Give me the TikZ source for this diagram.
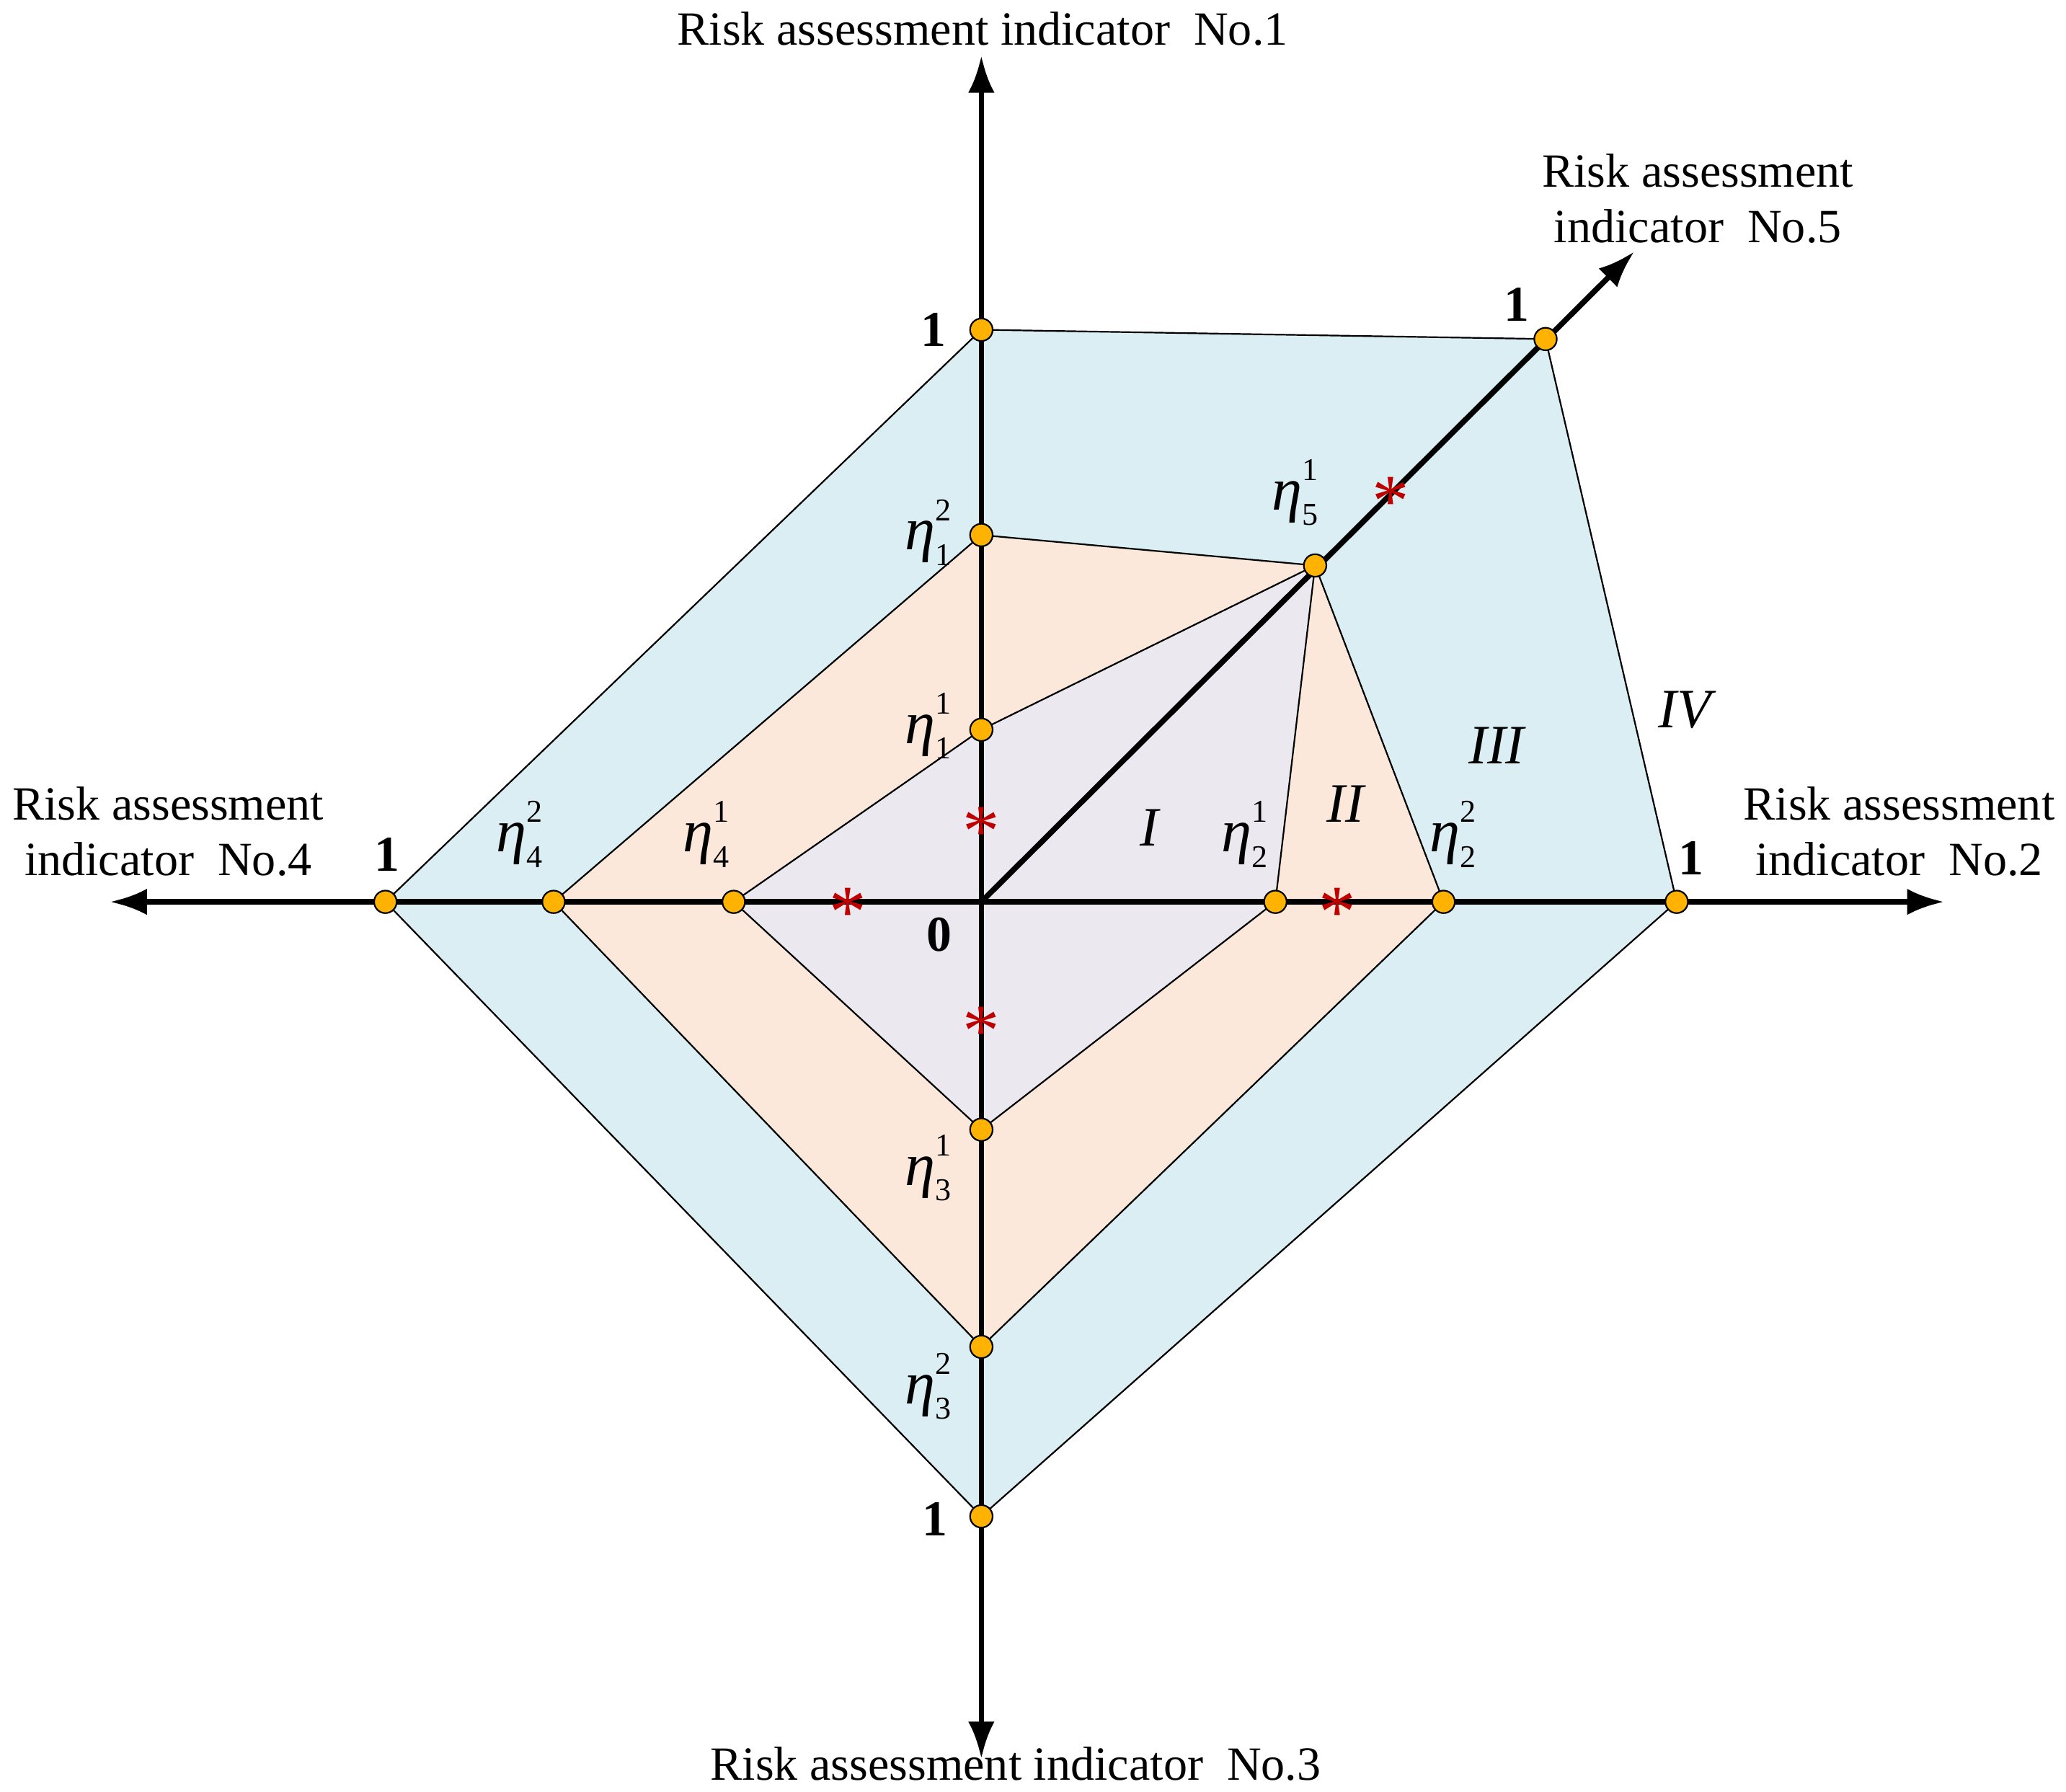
\documentclass[tikz,border=0pt]{standalone}
\usepackage{fontspec}
\setmainfont{Liberation Serif}
\usetikzlibrary{arrows.meta}
\newcommand{\myeta}[2]{\textit{η}\makebox[0pt][l]{\raisebox{1.05ex}{\fontsize{12}{12}\selectfont #2}}\raisebox{-0.55ex}{\fontsize{12}{12}\selectfont #1}}
\begin{document}
\begin{tikzpicture}[x=0.5pt,y=-0.5pt,
  ax/.style={line width=2.1pt,-{Latex[length=14pt,width=10pt]}},
  poly/.style={draw=black,line width=0.6pt},
  dot/.style={circle,draw=black,fill=orange!60!yellow!100,line width=0.6pt,minimum size=8.5pt,inner sep=0pt},
  st/.style={text=red!75!black,font=\fontsize{28}{28}\selectfont,inner sep=0pt},
  lab/.style={font=\fontsize{18}{21}\selectfont,align=center},
  one/.style={font=\fontsize{19}{19}\selectfont\bfseries},
  eta/.style={font=\fontsize{23}{23}\selectfont,inner sep=0pt},
  rn/.style={font=\fontsize{21}{21}\selectfont\itshape}]
\useasboundingbox (0,0) rectangle (1560,1353);
\definecolor{cb}{HTML}{DAEEF3}
\definecolor{co}{HTML}{FBE8DA}
\definecolor{ci}{HTML}{ECE8F0}
\coordinate (O) at (741,681);
\coordinate (a1) at (741,249); \coordinate (b1) at (741,404); \coordinate (c1) at (741,551);
\coordinate (a2) at (1266,681); \coordinate (b2) at (1090,681); \coordinate (c2) at (963,681);
\coordinate (a3) at (741,1145); \coordinate (b3) at (741,1017); \coordinate (c3) at (741,853);
\coordinate (a4) at (291,681); \coordinate (b4) at (418,681); \coordinate (c4) at (554,681);
\coordinate (a5) at (1167,256); \coordinate (c5) at (993,427);
\filldraw[poly,fill=cb] (a1)--(a5)--(a2)--(a3)--(a4)--cycle;
\filldraw[poly,fill=co] (b1)--(c5)--(b2)--(b3)--(b4)--cycle;
\filldraw[poly,fill=ci] (c1)--(c5)--(c2)--(c3)--(c4)--cycle;
\coordinate (t1) at (741,42); \coordinate (t2) at (1468,681);
\coordinate (t3) at (741,1328); \coordinate (t4) at (83,681); \coordinate (t5) at (1234,190);
\draw[ax] (O)--(t1); \draw[ax] (O)--(t2); \draw[ax] (O)--(t3); \draw[ax] (O)--(t4); \draw[ax] (O)--(t5);
\foreach \p in {a1,b1,c1,a2,b2,c2,a3,b3,c3,a4,b4,c4,a5,c5} \node[dot] (n\p) at (\p) {};
\node[st] (s1) at (741,628) {*}; \node[st] (s2) at (640,689) {*};
\node[st] (s3) at (741,779) {*}; \node[st] (s4) at (1010,689) {*};
\node[st] (s5) at (1050,379) {*};
\node[lab] (l1) at (742,22) {Risk assessment indicator\ \ No.1};
\node[lab] (l3) at (767,1332) {Risk assessment indicator\ \ No.3};
\node[lab] (l4) at (127,628) {Risk assessment\\indicator\ \ No.4};
\node[lab] (l2) at (1434,628) {Risk assessment\\indicator\ \ No.2};
\node[lab] (l5) at (1282,150) {Risk assessment\\indicator\ \ No.5};
\node[one] at (705,249) {1}; \node[one] at (1145,230) {1}; \node[one] at (1277,648) {1};
\node[one] at (706,1147) {1}; \node[one] at (292,645) {1}; \node[one] at (709,706) {0};
\node[eta] at (701,402) {\myeta{1}{2}}; \node[eta] at (701,548) {\myeta{1}{1}};
\node[eta] at (978,372) {\myeta{5}{1}};
\node[eta] at (940,630) {\myeta{2}{1}}; \node[eta] at (1097,630) {\myeta{2}{2}};
\node[eta] at (701,882) {\myeta{3}{1}}; \node[eta] at (701,1047) {\myeta{3}{2}};
\node[eta] at (533,630) {\myeta{4}{1}}; \node[eta] at (392,630) {\myeta{4}{2}};
\node[rn] at (868,625) {I}; \node[rn] at (1016,607) {II};
\node[rn] at (1130,563) {III}; \node[rn] at (1272,536) {IV};
\end{tikzpicture}
\end{document}
